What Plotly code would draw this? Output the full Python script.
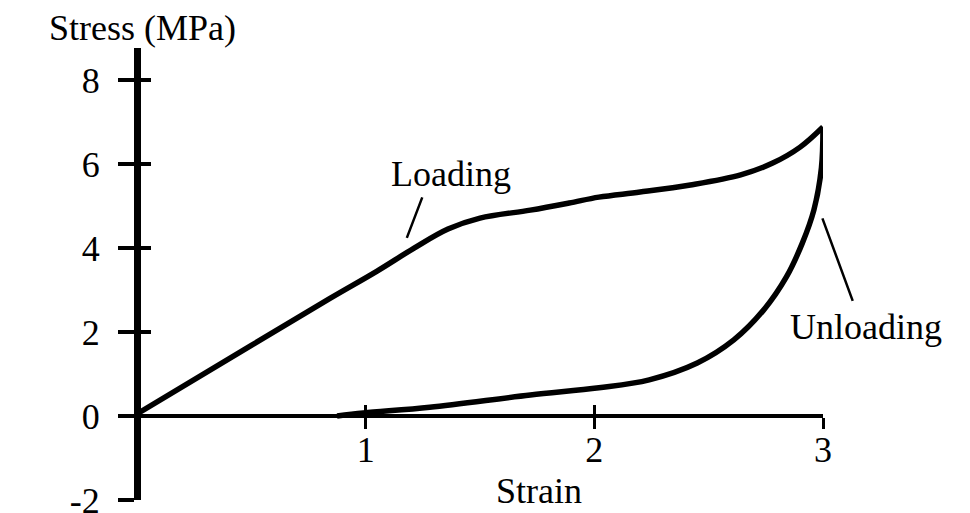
import plotly.graph_objects as go

# Loading branch (strain, stress in MPa)
load_strain = [0.0, 0.5, 0.844, 1.05, 1.21, 1.36, 1.50, 1.72, 1.89, 2.02, 2.20, 2.42, 2.64, 2.78, 2.90, 3.0]
load_stress = [0.05, 1.68, 2.80, 3.45, 3.99, 4.45, 4.71, 4.90, 5.07, 5.21, 5.33, 5.50, 5.74, 6.02, 6.40, 6.88]

# Unloading branch
unload_strain = [3.0, 2.993, 2.96, 2.91, 2.84, 2.74, 2.61, 2.45, 2.24, 2.02, 1.72, 1.28, 0.99, 0.875]
unload_stress = [6.88, 5.90, 4.90, 4.12, 3.31, 2.52, 1.81, 1.26, 0.86, 0.67, 0.50, 0.21, 0.07, 0.0]

x_ticks = [1, 2, 3]
y_ticks = [-2, 0, 2, 4, 6, 8]
x_range = [0, 3]
y_range = [-2, 8.76]

# Labels and leader lines (data coordinates)
loading_label = ("Loading", 1.373, 5.76)
loading_leader = [(1.25, 5.24), (1.18, 4.24)]
unloading_label = ("Unloading", 3.0, 2.12)
unloading_leader = [(2.995, 4.74), (3.13, 2.74)]

FONT = "Liberation Serif"
FS = 36
# The page body has an 8px margin; the figure starts 8px in from the window corner
W, H = 954, 505

fig = go.Figure()
fig.add_trace(go.Scatter(x=load_strain, y=load_stress, mode="lines",
                         line=dict(color="black", width=5.5, shape="spline", smoothing=1.0),
                         showlegend=False, hoverinfo="skip"))
fig.add_trace(go.Scatter(x=unload_strain, y=unload_stress, mode="lines",
                         line=dict(color="black", width=5.5, shape="spline", smoothing=1.0),
                         showlegend=False, hoverinfo="skip"))
# dummy trace for the overlay axes (cross ticks)
fig.add_trace(go.Scatter(x=[None], y=[None], xaxis="x2", yaxis="y2", showlegend=False))

xdom = [129 / W, 815 / W]
ydom = [(H - 492) / H, (H - 40) / H]
x_pos = (H - 408) / H
y_pos = 129 / W

common_font = dict(family=FONT, size=FS, color="black")

fig.update_layout(
    width=W, height=H,
    margin=dict(l=0, r=0, t=0, b=0, autoexpand=False),
    paper_bgcolor="white", plot_bgcolor="white",
    showlegend=False,
    xaxis=dict(domain=xdom, range=x_range, anchor="free", position=x_pos,
               showline=True, linecolor="black", linewidth=4,
               ticks="outside", ticklen=11, tickwidth=3, tickcolor="black",
               tickvals=x_ticks, ticktext=[str(v) for v in x_ticks],
               tickfont=common_font, ticklabelstandoff=-10,
               ticklabeloverflow="allow",
               showgrid=False, zeroline=False, fixedrange=True),
    xaxis2=dict(domain=xdom, range=x_range, anchor="free", position=x_pos,
                overlaying="x", showline=False,
                ticks="inside", ticklen=11, tickwidth=3, tickcolor="black",
                tickvals=x_ticks, showticklabels=False,
                showgrid=False, zeroline=False),
    yaxis=dict(domain=ydom, range=y_range, anchor="free", position=y_pos,
               showline=True, linecolor="black", linewidth=7,
               ticks="outside", ticklen=16, tickwidth=4, tickcolor="black",
               tickvals=y_ticks, ticktext=[str(v) for v in y_ticks],
               tickfont=common_font, ticklabelstandoff=11,
               ticklabeloverflow="allow",
               showgrid=False, zeroline=False, fixedrange=True),
    yaxis2=dict(domain=ydom, range=y_range, anchor="free", position=y_pos,
                overlaying="y", showline=False,
                ticks="inside", ticklen=13, tickwidth=4, tickcolor="black",
                tickvals=y_ticks, showticklabels=False,
                showgrid=False, zeroline=False),
)

annotations = [
    dict(text="Stress (MPa)", xref="paper", yref="paper", x=134 / W, y=(H - 20) / H,
         showarrow=False, font=common_font, xanchor="center", yanchor="middle"),
    dict(text="Strain", xref="paper", yref="paper", x=531 / W, y=(H - 483) / H,
         showarrow=False, font=common_font, xanchor="center", yanchor="middle"),
    dict(text=loading_label[0], xref="x", yref="y", x=loading_label[1], y=loading_label[2],
         showarrow=False, font=common_font, xanchor="center", yanchor="middle"),
    dict(text=unloading_label[0], xref="x", yref="y", x=unloading_label[1], y=unloading_label[2],
         xshift=43, showarrow=False, font=common_font, xanchor="center", yanchor="middle"),
]
for (x0, y0), (x1, y1) in [loading_leader, unloading_leader]:
    annotations.append(dict(text="", xref="x", yref="y", x=x1, y=y1,
                            axref="x", ayref="y", ax=x0, ay=y0,
                            showarrow=True, arrowhead=0, arrowwidth=2.5,
                            arrowcolor="black", standoff=0, startstandoff=0))
fig.update_layout(annotations=annotations)

fig.write_html("out.html")
